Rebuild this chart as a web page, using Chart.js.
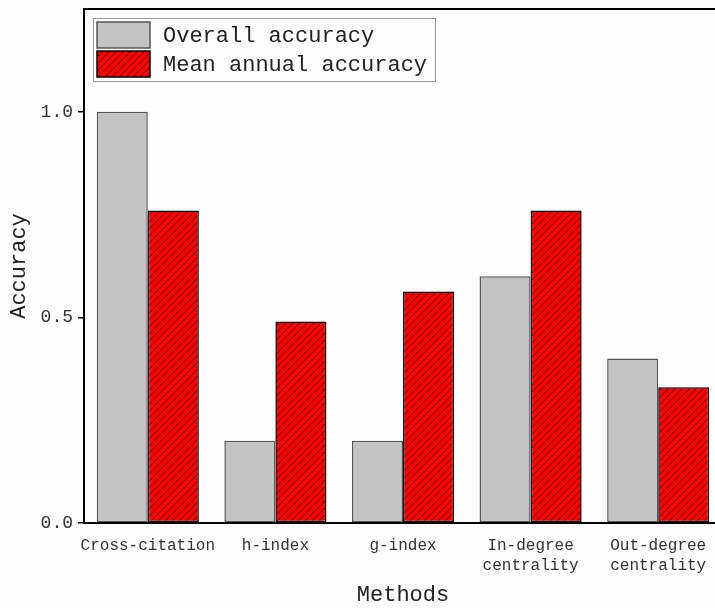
<!DOCTYPE html>
<html>
<head>
<meta charset="utf-8">
<script src="https://cdn.jsdelivr.net/npm/chart.js@4"></script>
<style>
  body { margin: 0; background: #fdfdfd; overflow: hidden; }
  #wrap { width: 722px; height: 608px; }
</style>
</head>
<body>
<div id="wrap"><canvas id="chart"></canvas></div>
<script>
// Data
const categories = ["Cross-citation", "h-index", "g-index", ["In-degree", "centrality"], ["Out-degree", "centrality"]];
const overallAccuracy = [1.0, 0.2, 0.2, 0.6, 0.4];
const meanAnnualAccuracy = [0.76, 0.49, 0.563, 0.76, 0.33];
const yTicks = [0, 0.5, 1.0];

const FONT = "'Liberation Mono', 'DejaVu Sans Mono', monospace";

// red fill with black /// hatching
function makeHatch() {
    const c = document.createElement("canvas");
    c.width = 7; c.height = 7;
    const g = c.getContext("2d");
    g.fillStyle = "#ff0000";
    g.fillRect(0, 0, 7, 7);
    g.strokeStyle = "#000";
    g.lineWidth = 0.8;
    g.beginPath();
    g.moveTo(-1, 8); g.lineTo(8, -1);
    g.moveTo(-1, 1); g.lineTo(1, -1);
    g.moveTo(6, 8); g.lineTo(8, 6);
    g.stroke();
    return g.createPattern(c, "repeat");
}

// legend inside the plot + top frame line
const frameLegend = {
    id: "frameLegend",
    afterDraw(chart) {
        const ctx = chart.ctx;
        const a = chart.chartArea;
        ctx.save();
        ctx.strokeStyle = "#000";
        ctx.lineWidth = 2;
        ctx.beginPath();
        ctx.moveTo(a.left, a.top);
        ctx.lineTo(a.right + 2, a.top);
        ctx.stroke();

        const x0 = a.left + 9, y0 = a.top + 9;
        ctx.fillStyle = "#fdfdfd";
        ctx.fillRect(x0, y0, 342, 63);
        ctx.strokeStyle = "#999";
        ctx.lineWidth = 1;
        ctx.strokeRect(x0 + 0.5, y0 + 0.5, 342, 63);
        ctx.font = "22px " + FONT;
        ctx.textBaseline = "middle";
        chart.data.datasets.forEach((ds, i) => {
            const sy = y0 + 4 + i * 29;
            ctx.fillStyle = ds.backgroundColor;
            ctx.fillRect(x0 + 4, sy, 53, 26);
            ctx.strokeStyle = ds.borderColor;
            ctx.lineWidth = 1.5;
            ctx.strokeRect(x0 + 4, sy, 53, 26);
            ctx.fillStyle = "#222";
            ctx.fillText(ds.label, x0 + 70, sy + 14);
        });
        ctx.restore();
    }
};

new Chart(document.getElementById("chart"), {
    type: "bar",
    data: {
        labels: categories,
        datasets: [
            {
                label: "Overall accuracy",
                data: overallAccuracy,
                backgroundColor: "#c3c3c3",
                borderColor: "#555",
                borderWidth: 1.5,
                borderSkipped: false
            },
            {
                label: "Mean annual accuracy",
                data: meanAnnualAccuracy,
                backgroundColor: makeHatch(),
                borderColor: "#000",
                borderWidth: 1.5,
                borderSkipped: false
            }
        ]
    },
    options: {
        responsive: true,
        maintainAspectRatio: false,
        animation: false,
        layout: { padding: { top: 9, right: 0, left: 0, bottom: 0 } },
        datasets: { bar: { categoryPercentage: 0.8, barPercentage: 1.0 } },
        plugins: {
            legend: { display: false },
            tooltip: { enabled: false }
        },
        scales: {
            x: {
                grid: { display: false, drawTicks: false },
                border: { display: true, color: "#000", width: 2 },
                ticks: {
                    color: "#333",
                    font: { family: FONT, size: 16, lineHeight: 1.3 },
                    padding: 12,
                    maxRotation: 0,
                    autoSkip: false
                },
                title: {
                    display: true,
                    text: "Methods",
                    color: "#222",
                    font: { family: FONT, size: 22 },
                    padding: { top: 4, bottom: 0 }
                },
                afterFit(scale) {
                    scale.height = 85;
                    scale.paddingLeft = 0;
                    scale.paddingRight = 0;
                }
            },
            y: {
                min: 0,
                max: 1.25,
                afterBuildTicks(scale) {
                    scale.ticks = yTicks.map(v => ({ value: v }));
                },
                grid: {
                    drawOnChartArea: false,
                    drawTicks: true,
                    tickLength: 6,
                    color: "#000",
                    lineWidth: 1.5
                },
                border: { display: true, color: "#000", width: 2 },
                ticks: {
                    color: "#333",
                    font: { family: FONT, size: 18 },
                    padding: 5,
                    callback: v => v.toFixed(1)
                },
                title: {
                    display: true,
                    text: "Accuracy",
                    color: "#222",
                    font: { family: FONT, size: 22 },
                    padding: { top: 6, bottom: 0 }
                },
                afterFit(scale) {
                    scale.width = 84;
                    scale.paddingTop = 0;
                    scale.paddingBottom = 0;
                }
            }
        }
    },
    plugins: [frameLegend]
});
</script>
</body>
</html>
